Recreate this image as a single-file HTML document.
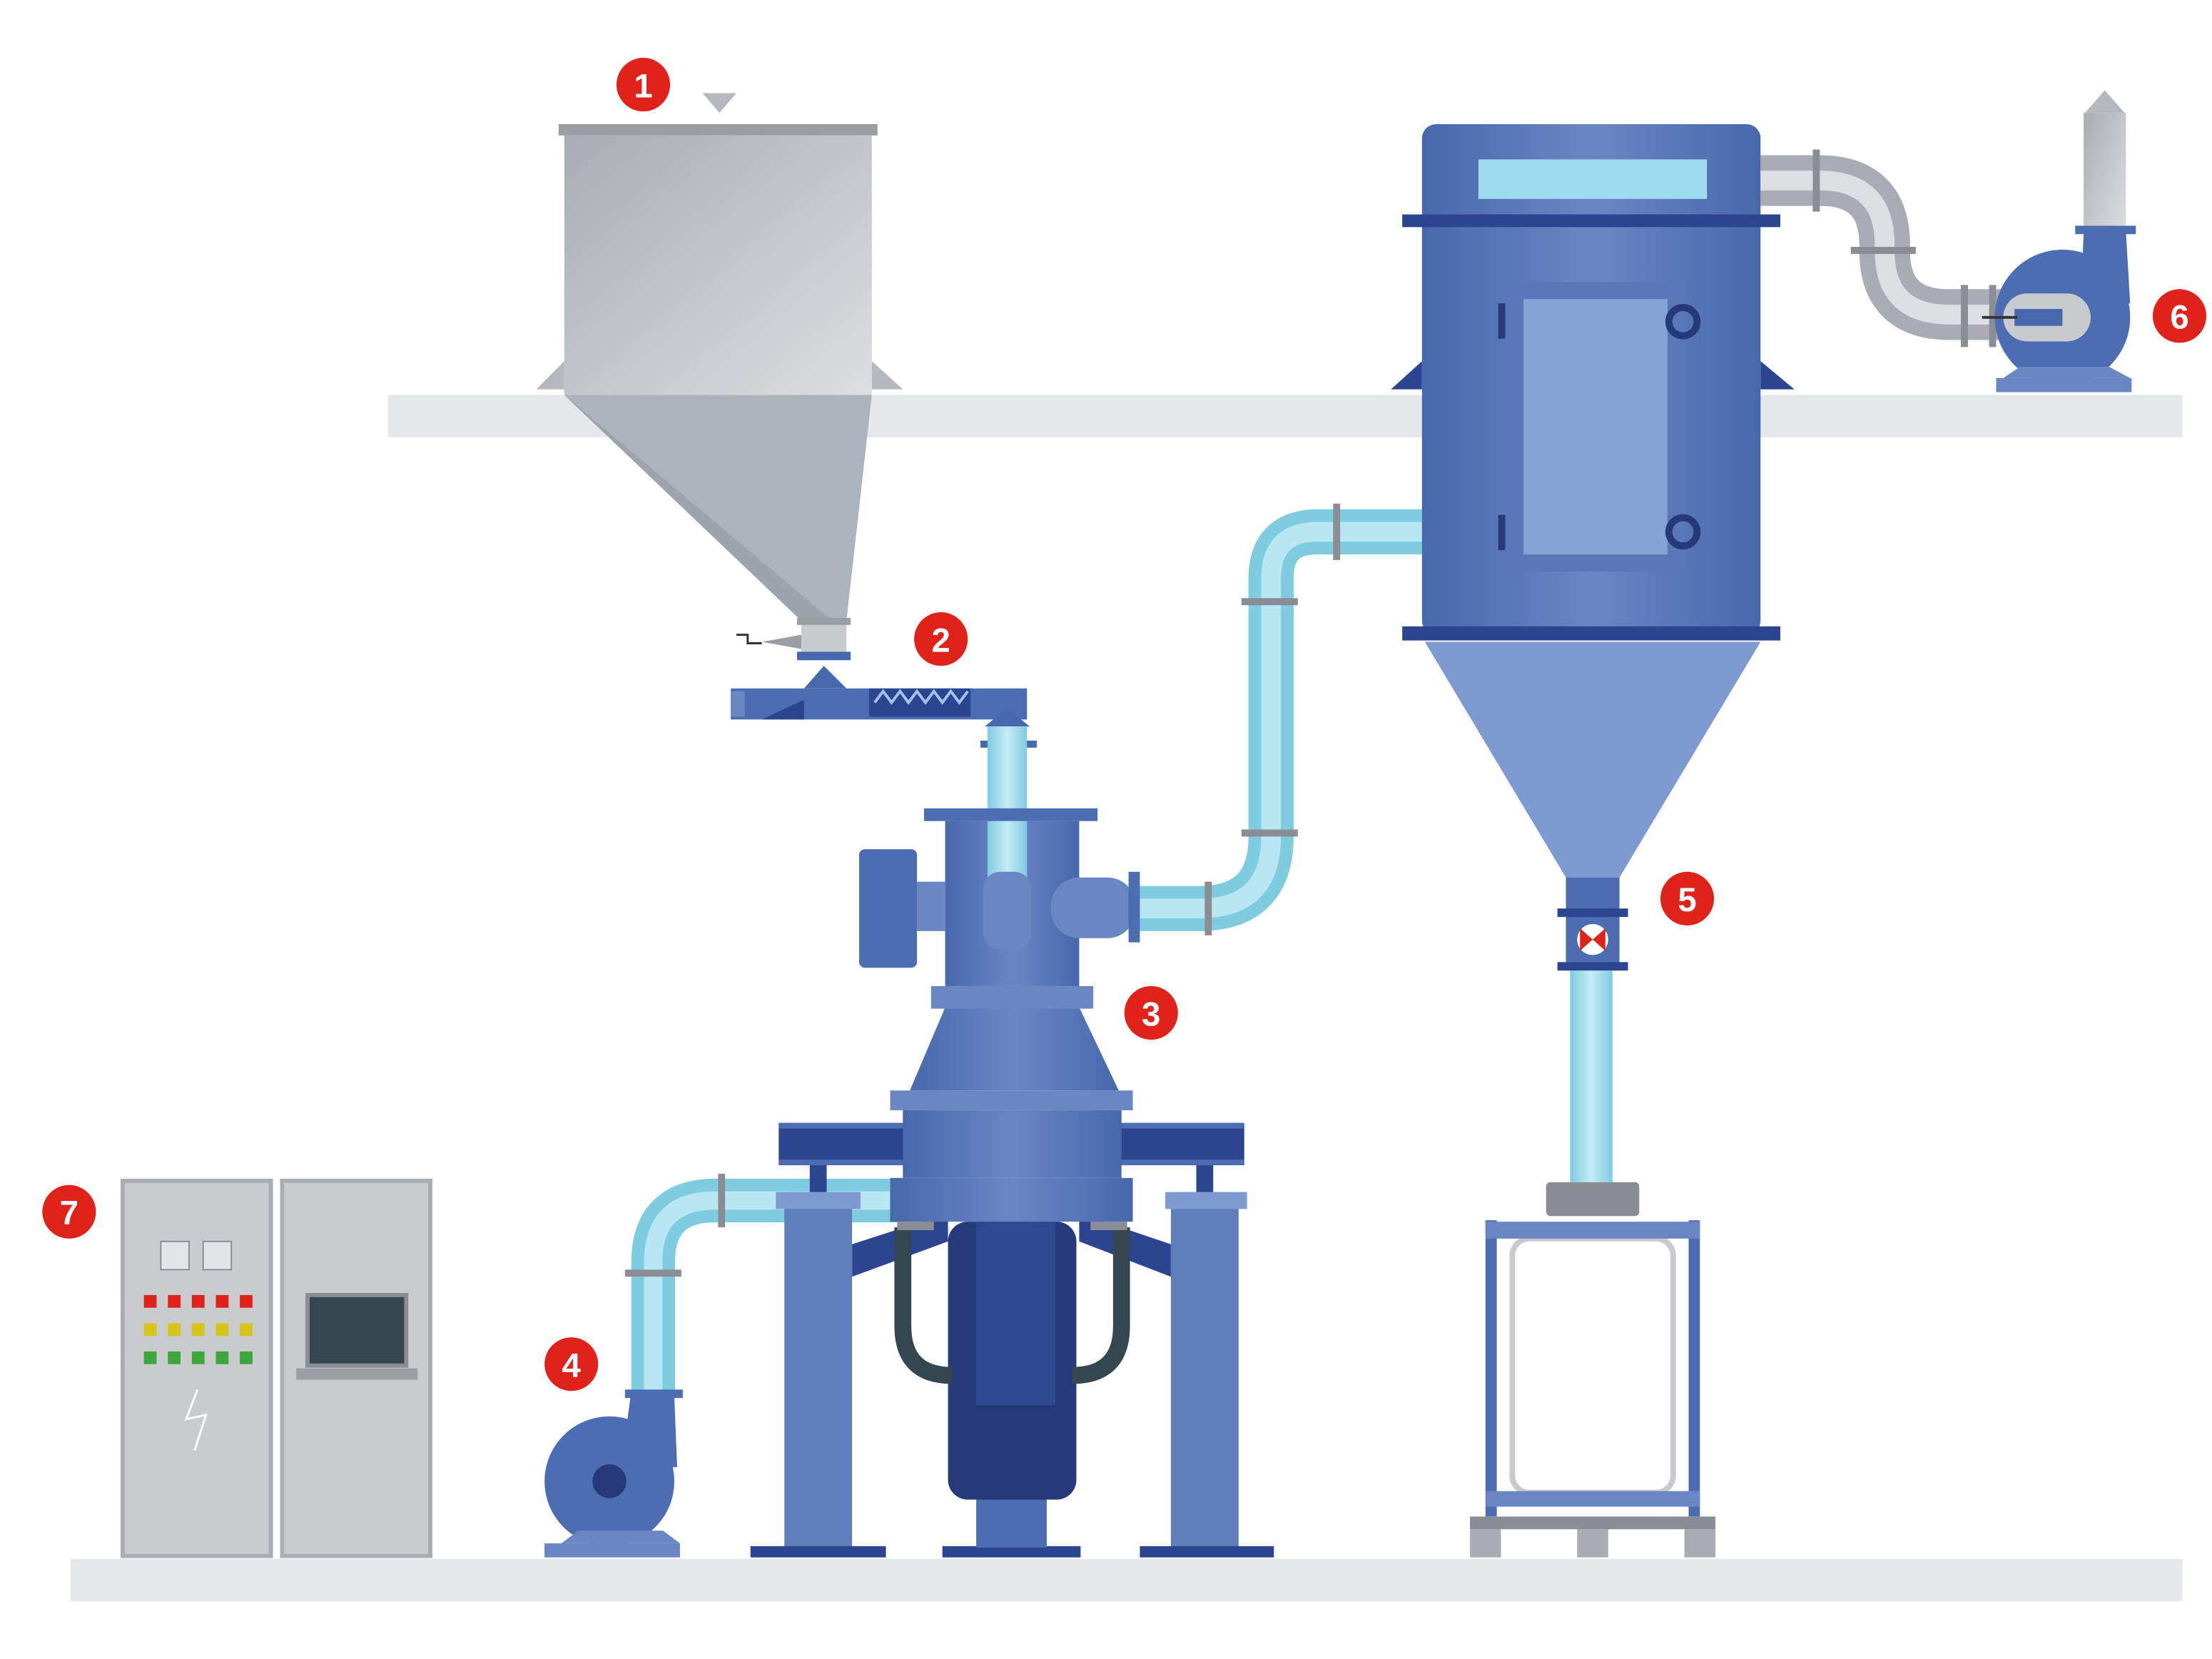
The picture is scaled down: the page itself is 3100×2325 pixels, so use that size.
<!DOCTYPE html>
<html><head><meta charset="utf-8"><style>html,body{margin:0;padding:0;background:#fff}svg{display:block}</style></head>
<body>
<svg width="3100" height="2325" viewBox="0 0 1568 1176" preserveAspectRatio="none" xmlns="http://www.w3.org/2000/svg" font-family="Liberation Sans, sans-serif">
<defs>
<linearGradient id="gr" x1="0" x2="1" y1="0" y2="1"><stop offset="0" stop-color="#a9adb3"/><stop offset="1" stop-color="#dcdee1"/></linearGradient>
<linearGradient id="bl" x1="0" x2="1"><stop offset="0" stop-color="#4868ad"/><stop offset=".5" stop-color="#6a87c4"/><stop offset="1" stop-color="#4868ad"/></linearGradient>
<linearGradient id="pv" x1="0" x2="1"><stop offset="0" stop-color="#7fcbe0"/><stop offset=".5" stop-color="#c4ecf5"/><stop offset="1" stop-color="#7fcbe0"/></linearGradient>
</defs>
<!-- shelves -->
<rect x="275" y="280" width="1272" height="30" fill="#e6e7ea"/>
<rect x="50" y="1105" width="1497" height="30" fill="#e6e7ea"/>
<!-- hopper -->
<rect x="396" y="88" width="226" height="8" fill="#9a9ea3"/>
<rect x="400" y="96" width="218" height="184" fill="url(#gr)"/>
<polygon points="380,276 400,256 400,276" fill="#b5b8bd"/><polygon points="618,256 640,276 618,276" fill="#b5b8bd"/>
<polygon points="400,280 618,280 600,440 568,440" fill="#adb3bd"/>
<polygon points="400,280 568,440 590,440" fill="#9ea4ae"/>
<rect x="568" y="440" width="32" height="28" fill="#c8cacd"/>
<rect x="565" y="438" width="38" height="5" fill="#9a9ea3"/><rect x="565" y="462" width="38" height="6" fill="#4868ad"/>
<polygon points="568,450 540,455 568,460" fill="#9a9ea3"/>
<polyline points="522,450 530,450 530,456 540,456" stroke="#333" fill="none" stroke-width="1.5"/>
<polygon points="498,66 522,66 510,80" fill="#b5b8bd"/>
<!-- screw feeder -->
<polygon points="570,488 584,472 600,488" fill="#4868ad"/>
<rect x="518" y="488" width="210" height="22" fill="#4d6db3"/>
<rect x="518" y="490" width="10" height="18" fill="#6a87c4"/>
<rect x="616" y="488" width="72" height="20" fill="#2b4590"/>
<path d="M620 498 l6 -8 l6 8 l6 -8 l6 8 l6 -8 l6 8 l6 -8 l6 8 l6 -8 l6 8 l6 -8" stroke="#a8c0ea" stroke-width="2" fill="none"/>
<polygon points="540,510 570,496 570,510" fill="#2b4590"/>
<polygon points="698,515 714,502 730,515" fill="#4868ad"/>
<rect x="695" y="525" width="40" height="5" fill="#4868ad"/>
<rect x="700" y="515" width="28" height="100" fill="url(#pv)"/>
<!-- pipe mill to cyclone -->
<path d="M805 644 H850 Q901 644 901 593 V410 Q901 377 934 377 H1010" stroke="#7fcbe0" stroke-width="32" fill="none"/>
<path d="M805 644 H850 Q901 644 901 593 V410 Q901 377 934 377 H1010" stroke="#b8e6f2" stroke-width="14" fill="none"/>
<rect x="854" y="625" width="5" height="38" fill="#8a8e94"/><rect x="880" y="588" width="40" height="5" fill="#8a8e94"/>
<rect x="880" y="424" width="40" height="5" fill="#8a8e94"/><rect x="945" y="357" width="5" height="40" fill="#8a8e94"/>
<!-- pipe fan4 to mill -->
<path d="M463 990 V895 Q463 851 507 851 H640" stroke="#7fcbe0" stroke-width="31" fill="none"/>
<path d="M463 990 V895 Q463 851 507 851 H640" stroke="#b8e6f2" stroke-width="13" fill="none"/>
<rect x="443" y="900" width="40" height="5" fill="#8a8e94"/><rect x="509" y="832" width="5" height="38" fill="#8a8e94"/>
<!-- mill -->
<rect x="552" y="796" width="330" height="30" fill="#2b4590"/>
<rect x="552" y="796" width="330" height="4" fill="#4d6db3"/><rect x="552" y="822" width="330" height="4" fill="#4d6db3"/>
<rect x="574" y="826" width="12" height="20" fill="#2b4590"/><rect x="848" y="826" width="12" height="20" fill="#2b4590"/>
<polygon points="604,882 672,860 672,880 604,905" fill="#2b4590"/><polygon points="830,882 765,860 765,880 830,905" fill="#2b4590"/>
<rect x="556" y="845" width="48" height="252" fill="#5f7fba"/><rect x="550" y="845" width="60" height="12" fill="#7e9ad0"/>
<rect x="830" y="845" width="48" height="252" fill="#5f7fba"/><rect x="826" y="845" width="58" height="12" fill="#7e9ad0"/>
<rect x="532" y="1096" width="96" height="8" fill="#2b4590"/><rect x="668" y="1096" width="98" height="8" fill="#2b4590"/><rect x="808" y="1096" width="95" height="8" fill="#2b4590"/>
<rect x="692" y="1060" width="50" height="37" fill="#4d6db3"/>
<rect x="672" y="866" width="91" height="197" rx="14" fill="#263a7a"/>
<rect x="692" y="866" width="56" height="130" fill="#2d4a92"/>
<path d="M640 870 V940 Q640 975 675 975" stroke="#34464f" stroke-width="12" fill="none"/>
<path d="M795 870 V940 Q795 975 760 975" stroke="#34464f" stroke-width="12" fill="none"/>
<rect x="631" y="835" width="172" height="31" fill="url(#bl)"/>
<rect x="636" y="866" width="26" height="6" fill="#8a8e94"/><rect x="773" y="866" width="26" height="6" fill="#8a8e94"/>
<rect x="640" y="787" width="155" height="48" fill="url(#bl)"/>
<rect x="631" y="773" width="172" height="14" fill="#6a87c4"/>
<polygon points="645,773 670,714 765,714 793,773" fill="url(#bl)"/>
<rect x="660" y="699" width="115" height="16" fill="#6a87c4"/>
<rect x="670" y="582" width="95" height="117" fill="url(#bl)"/>
<rect x="655" y="573" width="123" height="9" fill="#4d6db3"/>
<rect x="700" y="582" width="28" height="40" fill="url(#pv)"/>
<rect x="697" y="618" width="34" height="55" rx="12" fill="#6a87c4"/>
<rect x="609" y="602" width="41" height="84" rx="4" fill="#4d6db3"/><rect x="650" y="625" width="20" height="35" fill="#6a87c4"/>
<rect x="745" y="622" width="60" height="43" rx="20" fill="#6a87c4"/><rect x="800" y="618" width="8" height="50" fill="#4d6db3"/>
<!-- fan 4 -->
<rect x="443" y="985" width="41" height="6" fill="#4d6db3"/>
<polygon points="447,990 478,990 480,1040 440,1040" fill="#4d6db3"/>
<circle cx="432" cy="1050" r="46" fill="#4d6db3"/><circle cx="432" cy="1050" r="12" fill="#263a7a"/>
<polygon points="398,1094 410,1085 470,1085 482,1094" fill="#6a87c4"/><rect x="386" y="1094" width="96" height="10" fill="#6a87c4"/>
<!-- cyclone -->
<polygon points="986,276 1008,256 1008,276" fill="#2b4590"/><polygon points="1248,256 1272,276 1248,276" fill="#2b4590"/>
<polygon points="1010,455 1248,455 1148,622 1110,622" fill="#7e9ad0"/>
<rect x="1008" y="88" width="240" height="362" rx="10" fill="url(#bl)"/>
<rect x="1048" y="113" width="162" height="28" fill="#9fdcef"/>
<rect x="994" y="152" width="268" height="9" fill="#2b4590"/><rect x="994" y="444" width="268" height="10" fill="#2b4590"/>
<rect x="1068" y="200" width="126" height="205" fill="#5a78b8"/><rect x="1080" y="212" width="102" height="181" fill="#87a2d5"/>
<rect x="1062" y="215" width="5" height="25" fill="#263a7a"/><rect x="1062" y="365" width="5" height="25" fill="#263a7a"/>
<circle cx="1193" cy="228" r="10" fill="none" stroke="#263a7a" stroke-width="5"/><circle cx="1193" cy="377" r="10" fill="none" stroke="#263a7a" stroke-width="5"/>
<!-- valve 5 -->
<rect x="1110" y="622" width="38" height="66" fill="#4d6db3"/>
<rect x="1104" y="644" width="50" height="6" fill="#2b4590"/><rect x="1104" y="682" width="50" height="6" fill="#2b4590"/>
<circle cx="1129" cy="666" r="11" fill="#fff"/><polygon points="1120,658 1138,674 1138,658 1120,674" fill="#e0231a"/>
<rect x="1113" y="688" width="30" height="150" fill="url(#pv)"/>
<rect x="1096" y="838" width="66" height="24" rx="3" fill="#8a8e94"/>
<!-- bag frame -->
<rect x="1072" y="878" width="114" height="180" rx="12" fill="#fff" stroke="#c8cacd" stroke-width="4"/>
<rect x="1053" y="865" width="8" height="210" fill="#4d6db3"/><rect x="1197" y="865" width="8" height="210" fill="#4d6db3"/>
<rect x="1053" y="866" width="152" height="12" fill="#6a87c4"/><rect x="1053" y="1057" width="152" height="11" fill="#6a87c4"/>
<rect x="1042" y="1075" width="174" height="9" fill="#8a8e94"/>
<rect x="1042" y="1084" width="22" height="20" fill="#a9adb3"/><rect x="1118" y="1084" width="22" height="20" fill="#a9adb3"/><rect x="1194" y="1084" width="22" height="20" fill="#a9adb3"/>
<!-- gray duct to fan 6 -->
<path d="M1248 128 H1290 Q1336 128 1336 174 V178 Q1336 223 1382 223 H1430" stroke="#a9adb3" stroke-width="36" fill="none"/>
<path d="M1248 128 H1290 Q1336 128 1336 174 V178 Q1336 223 1382 223 H1430" stroke="#dcdee1" stroke-width="14" fill="none"/>
<rect x="1285" y="106" width="5" height="44" fill="#8a8e94"/><rect x="1312" y="175" width="46" height="5" fill="#8a8e94"/>
<rect x="1390" y="202" width="5" height="44" fill="#8a8e94"/><rect x="1410" y="202" width="5" height="44" fill="#8a8e94"/>
<!-- fan 6 -->
<rect x="1477" y="80" width="30" height="85" fill="url(#gr)"/><polygon points="1478,80 1492,64 1506,80" fill="#b5b8bd"/>
<rect x="1471" y="160" width="43" height="6" fill="#4d6db3"/>
<polygon points="1477,165 1507,165 1510,215 1475,215" fill="#4d6db3"/>
<circle cx="1462" cy="225" r="48" fill="#4d6db3"/>
<rect x="1420" y="208" width="62" height="34" rx="17" fill="#c8cacd"/><rect x="1428" y="219" width="34" height="12" fill="#4868ad"/>
<line x1="1405" y1="225" x2="1430" y2="225" stroke="#333" stroke-width="2"/>
<polygon points="1420,268 1432,260 1495,260 1510,268" fill="#6a87c4"/><rect x="1415" y="268" width="96" height="10" fill="#6a87c4"/>
<!-- cabinets -->
<rect x="87" y="837" width="105" height="266" fill="#c9cbcf" stroke="#a9adb3" stroke-width="3"/>
<rect x="200" y="837" width="105" height="266" fill="#c9cbcf" stroke="#a9adb3" stroke-width="3"/>
<rect x="114" y="880" width="20" height="20" fill="#e4e5e7" stroke="#8a8e94"/><rect x="144" y="880" width="20" height="20" fill="#e4e5e7" stroke="#8a8e94"/>
<g fill="#e0231a"><rect x="102" y="918" width="9" height="9"/><rect x="119" y="918" width="9" height="9"/><rect x="136" y="918" width="9" height="9"/><rect x="153" y="918" width="9" height="9"/><rect x="170" y="918" width="9" height="9"/></g>
<g fill="#d8c51a"><rect x="102" y="938" width="9" height="9"/><rect x="119" y="938" width="9" height="9"/><rect x="136" y="938" width="9" height="9"/><rect x="153" y="938" width="9" height="9"/><rect x="170" y="938" width="9" height="9"/></g>
<g fill="#3da63d"><rect x="102" y="958" width="9" height="9"/><rect x="119" y="958" width="9" height="9"/><rect x="136" y="958" width="9" height="9"/><rect x="153" y="958" width="9" height="9"/><rect x="170" y="958" width="9" height="9"/></g>
<polyline points="140,985 132,1006 146,1003 138,1028" stroke="#fff" stroke-width="1.5" fill="none"/>
<rect x="218" y="918" width="70" height="50" fill="#34464f" stroke="#8a8e94" stroke-width="3"/>
<rect x="210" y="970" width="86" height="8" fill="#9a9ea3"/>
<!-- labels -->
<g fill="#e0231a"><circle cx="456" cy="60" r="19"/><circle cx="667" cy="453" r="19"/><circle cx="816" cy="718" r="19"/><circle cx="405" cy="967" r="19"/><circle cx="1196" cy="637" r="19"/><circle cx="1545" cy="224" r="19"/><circle cx="49" cy="859" r="19"/></g>
<g fill="#fff" font-size="24" font-weight="bold" text-anchor="middle">
<text x="456" y="69">1</text><text x="667" y="462">2</text><text x="816" y="727">3</text><text x="405" y="976">4</text><text x="1196" y="646">5</text><text x="1545" y="233">6</text><text x="49" y="868">7</text></g>
</svg>
</body></html>
